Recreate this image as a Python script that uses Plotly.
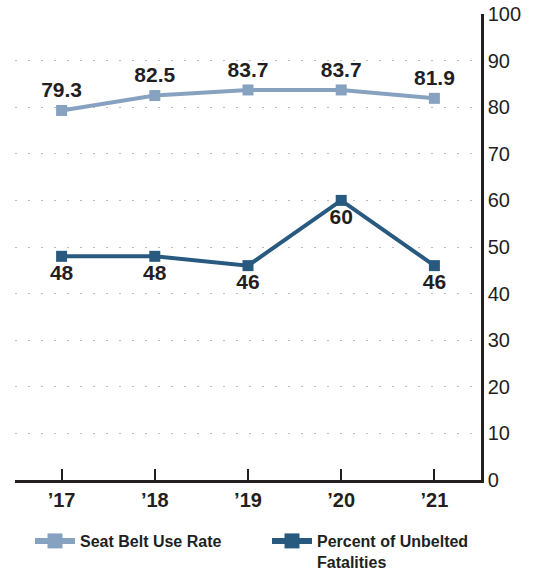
import plotly.graph_objects as go

years = ["\u201917", "\u201918", "\u201919", "\u201920", "\u201921"]
belt_use = [79.3, 82.5, 83.7, 83.7, 81.9]
unbelted = [48, 48, 46, 60, 46]
y_ticks = [0, 10, 20, 30, 40, 50, 60, 70, 80, 90, 100]
series_names = ["Seat Belt Use Rate", "Percent of Unbelted<br>Fatalities"]

light = "#87a2c0"
dark = "#285a80"
txt = "#231f20"
font_fam = "Liberation Sans, Arial, sans-serif"

fig = go.Figure()
fig.add_trace(go.Scatter(
    x=years, y=belt_use, name=series_names[0], showlegend=False,
    mode="lines+markers+text",
    line=dict(color=light, width=4),
    marker=dict(symbol="square", size=11, color=light),
    text=[f"{v:.1f}" for v in belt_use], textposition="top center",
    textfont=dict(size=21, color=txt, family=font_fam, weight="bold"),
    cliponaxis=False,
))
fig.add_trace(go.Scatter(
    x=years, y=unbelted, name=series_names[1], showlegend=False,
    mode="lines+markers+text",
    line=dict(color=dark, width=4),
    marker=dict(symbol="square", size=11, color=dark),
    text=[str(v) for v in unbelted], textposition="bottom center",
    textfont=dict(size=21, color=txt, family=font_fam, weight="bold"),
    cliponaxis=False,
))
# legend entries (larger symbols, as in the reference key)
for name, col, leg in [(series_names[0], light, "legend"), (series_names[1], dark, "legend2")]:
    fig.add_trace(go.Scatter(
        x=[None], y=[None], name=name, mode="lines+markers",
        line=dict(color=col, width=6),
        marker=dict(symbol="square", size=15, color=col),
        legend=leg, showlegend=True, hoverinfo="skip",
    ))

leg_common = dict(
    orientation="h", xref="container", yref="container",
    yanchor="top", xanchor="left",
    font=dict(size=16, color=txt, family=font_fam, weight="bold"),
    itemwidth=40, valign="top", bgcolor="rgba(0,0,0,0)",
)

fig.update_layout(
    width=537, height=571,
    margin=dict(l=15, r=56, t=14, b=91),
    paper_bgcolor="white", plot_bgcolor="white",
    font=dict(family=font_fam, color=txt),
    showlegend=True,
    legend=dict(x=30 / 537, y=(571 - 524) / 571, **leg_common),
    legend2=dict(x=267 / 537, y=(571 - 524) / 571, **leg_common),
    xaxis=dict(
        type="category", range=[-0.5, 4.5],
        showline=True, linecolor=txt, linewidth=2.5,
        ticks="inside", ticklen=11, tickwidth=2, tickcolor=txt,
        tickfont=dict(size=20, color=txt, family=font_fam, weight="bold"),
        showgrid=False, zeroline=False, fixedrange=True, automargin=False,
    ),
    yaxis=dict(
        side="right", range=[0, 100], tickvals=y_ticks,
        showline=True, linecolor=txt, linewidth=2.5,
        ticks="", tickfont=dict(size=20, color=txt, family=font_fam),
        showgrid=True, gridcolor="#bdbdbd", gridwidth=1.2, griddash="2px,11px",
        zeroline=False, fixedrange=True, automargin=False,
    ),
)

fig.write_html("out.html", config={"displayModeBar": False},
               post_script="document.body.style.margin='0';")
